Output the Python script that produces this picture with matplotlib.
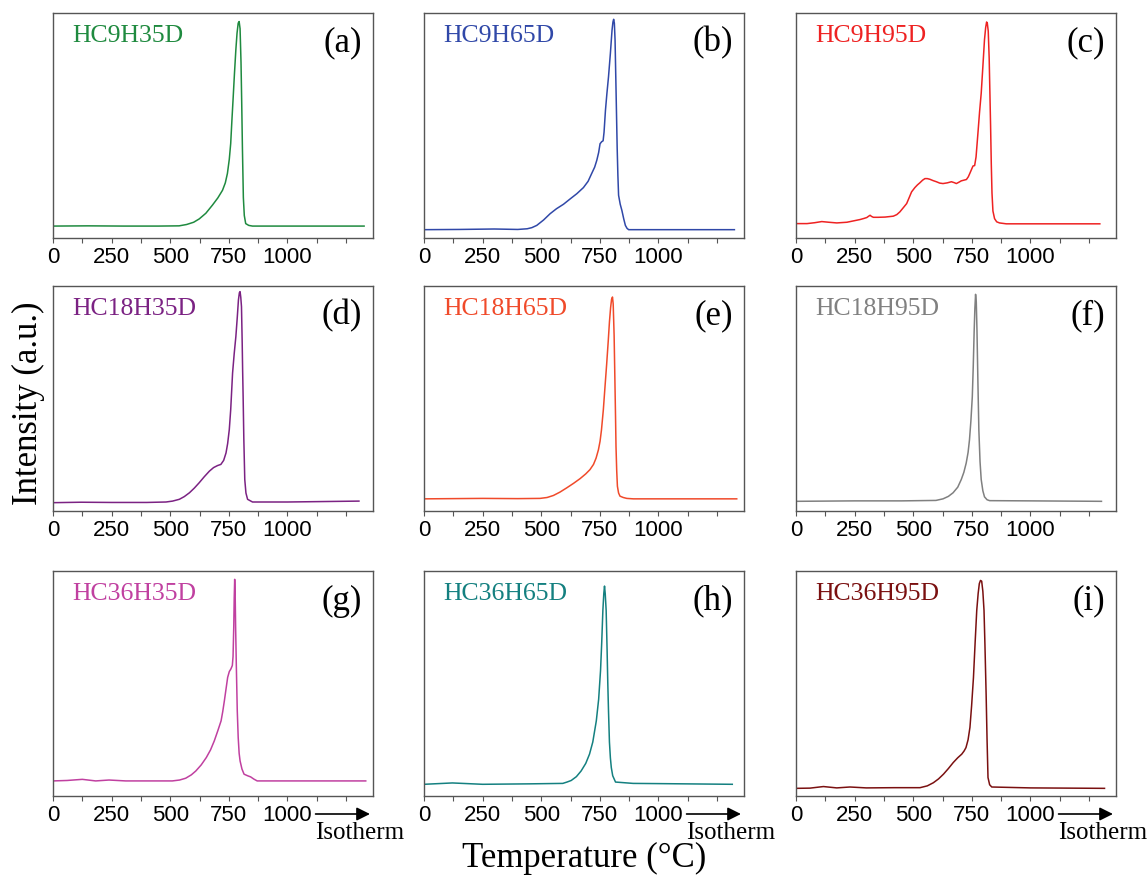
import numpy as np
import matplotlib
matplotlib.use("Agg")
import matplotlib.pyplot as plt

# Intensity (a.u., fraction of panel height) vs temperature (deg C)
a_temp = [0, 150, 300, 450, 538, 570, 600, 624, 652, 680, 703, 723, 735, 744, 752, 758, 763, 768, 774, 780, 785, 790, 794, 798, 802, 805, 808, 812, 816, 822, 835, 851, 1000, 1327]
a_int = [0.053, 0.054, 0.053, 0.053, 0.054, 0.060, 0.070, 0.085, 0.110, 0.146, 0.178, 0.212, 0.245, 0.287, 0.350, 0.420, 0.520, 0.614, 0.730, 0.837, 0.910, 0.955, 0.962, 0.930, 0.780, 0.600, 0.400, 0.180, 0.100, 0.064, 0.056, 0.053, 0.053, 0.053]

b_temp = [0, 150, 300, 400, 440, 460, 481, 510, 538, 565, 595, 625, 652, 680, 700, 715, 728, 737, 745, 751, 758, 764, 768, 774, 780, 787, 795, 802, 806, 809, 812, 815, 818, 821, 824, 827, 830, 837, 844, 852, 859, 866, 873, 1000, 1324]
b_int = [0.037, 0.038, 0.040, 0.038, 0.041, 0.046, 0.056, 0.080, 0.108, 0.130, 0.150, 0.175, 0.197, 0.224, 0.252, 0.286, 0.315, 0.345, 0.380, 0.419, 0.428, 0.432, 0.470, 0.567, 0.640, 0.716, 0.820, 0.923, 0.960, 0.972, 0.955, 0.880, 0.720, 0.560, 0.400, 0.280, 0.190, 0.150, 0.123, 0.085, 0.056, 0.043, 0.037, 0.037, 0.037]

c_temp = [0, 47, 80, 110, 140, 174, 217, 245, 273, 290, 302, 310, 316, 322, 330, 350, 380, 415, 430, 443, 458, 472, 483, 493, 507, 518, 528, 540, 550, 560, 571, 585, 599, 613, 627, 645, 663, 675, 684, 695, 705, 716, 727, 735, 741, 748, 755, 762, 768, 776, 783, 790, 797, 804, 809, 813, 816, 820, 824, 827, 830, 833, 836, 840, 847, 856, 868, 897, 1296]
c_int = [0.064, 0.064, 0.068, 0.073, 0.070, 0.067, 0.070, 0.076, 0.082, 0.087, 0.091, 0.097, 0.101, 0.096, 0.092, 0.092, 0.093, 0.097, 0.104, 0.116, 0.135, 0.153, 0.180, 0.205, 0.224, 0.236, 0.245, 0.257, 0.264, 0.264, 0.261, 0.255, 0.250, 0.244, 0.242, 0.245, 0.250, 0.246, 0.242, 0.248, 0.254, 0.257, 0.260, 0.272, 0.286, 0.303, 0.320, 0.322, 0.360, 0.465, 0.560, 0.643, 0.760, 0.881, 0.935, 0.960, 0.955, 0.920, 0.800, 0.650, 0.500, 0.330, 0.200, 0.120, 0.086, 0.072, 0.067, 0.063, 0.063]

d_temp = [0, 120, 250, 400, 482, 510, 539, 560, 582, 603, 624, 645, 667, 685, 702, 716, 728, 738, 745, 752, 758, 766, 773, 780, 786, 791, 795, 798, 801, 804, 807, 809, 811, 814, 818, 823, 830, 851, 1000, 1305]
d_int = [0.037, 0.039, 0.038, 0.038, 0.040, 0.044, 0.052, 0.064, 0.081, 0.102, 0.126, 0.152, 0.177, 0.193, 0.202, 0.207, 0.225, 0.258, 0.300, 0.362, 0.450, 0.613, 0.700, 0.775, 0.860, 0.938, 0.970, 0.975, 0.950, 0.908, 0.750, 0.620, 0.510, 0.320, 0.140, 0.080, 0.052, 0.040, 0.040, 0.044]

e_temp = [0, 250, 400, 495, 525, 552, 580, 609, 638, 666, 690, 708, 723, 734, 744, 751, 757, 765, 772, 779, 786, 791, 796, 800, 804, 807, 809, 811, 814, 817, 819, 822, 825, 830, 836, 850, 865, 893, 1334]
e_int = [0.054, 0.056, 0.055, 0.056, 0.060, 0.069, 0.084, 0.103, 0.123, 0.144, 0.165, 0.184, 0.207, 0.235, 0.272, 0.310, 0.360, 0.450, 0.551, 0.650, 0.757, 0.840, 0.904, 0.940, 0.951, 0.920, 0.850, 0.780, 0.600, 0.420, 0.287, 0.180, 0.110, 0.080, 0.066, 0.060, 0.056, 0.054, 0.054]

f_temp = [0, 250, 450, 597, 627, 650, 670, 690, 705, 716, 726, 734, 740, 746, 752, 756, 760, 763, 766, 769, 772, 776, 780, 785, 790, 797, 804, 815, 826, 1000, 1303]
f_int = [0.043, 0.045, 0.045, 0.047, 0.054, 0.065, 0.081, 0.106, 0.140, 0.172, 0.213, 0.260, 0.316, 0.400, 0.507, 0.640, 0.801, 0.900, 0.963, 0.930, 0.801, 0.570, 0.360, 0.220, 0.140, 0.090, 0.063, 0.050, 0.046, 0.045, 0.043]

g_temp = [0, 60, 125, 182, 239, 310, 400, 509, 540, 566, 590, 609, 632, 654, 672, 688, 703, 717, 724, 731, 738, 745, 752, 759, 765, 768, 771, 773, 775, 777, 779, 782, 786, 790, 794, 798, 806, 815, 830, 843, 857, 871, 1000, 1334]
g_int = [0.067, 0.069, 0.074, 0.067, 0.071, 0.067, 0.067, 0.067, 0.071, 0.079, 0.094, 0.111, 0.138, 0.171, 0.205, 0.245, 0.290, 0.334, 0.375, 0.423, 0.475, 0.527, 0.553, 0.565, 0.580, 0.620, 0.750, 0.880, 0.963, 0.900, 0.750, 0.580, 0.379, 0.260, 0.190, 0.156, 0.120, 0.097, 0.090, 0.085, 0.075, 0.067, 0.067, 0.067]

h_temp = [0, 121, 250, 450, 592, 610, 628, 650, 670, 690, 706, 720, 735, 745, 753, 758, 763, 767, 770, 773, 777, 781, 784, 787, 791, 795, 799, 805, 817, 892, 1006, 1315]
h_int = [0.052, 0.058, 0.052, 0.054, 0.056, 0.062, 0.069, 0.086, 0.111, 0.145, 0.186, 0.240, 0.334, 0.430, 0.557, 0.680, 0.825, 0.900, 0.933, 0.900, 0.825, 0.650, 0.500, 0.379, 0.240, 0.170, 0.126, 0.090, 0.062, 0.056, 0.055, 0.052]

i_temp = [0, 60, 117, 174, 230, 300, 420, 529, 560, 586, 608, 629, 650, 671, 690, 707, 717, 725, 734, 742, 749, 757, 764, 771, 777, 782, 787, 792, 797, 802, 806, 811, 815, 819, 826, 835, 1000, 1316]
i_int = [0.034, 0.035, 0.042, 0.036, 0.040, 0.036, 0.037, 0.037, 0.045, 0.059, 0.076, 0.097, 0.122, 0.149, 0.170, 0.186, 0.200, 0.215, 0.250, 0.305, 0.400, 0.527, 0.680, 0.825, 0.900, 0.944, 0.958, 0.955, 0.910, 0.825, 0.670, 0.453, 0.250, 0.082, 0.050, 0.040, 0.036, 0.034]

names = ["HC9H35D", "HC9H65D", "HC9H95D",
         "HC18H35D", "HC18H65D", "HC18H95D",
         "HC36H35D", "HC36H65D", "HC36H95D"]
letters = ["(a)", "(b)", "(c)", "(d)", "(e)", "(f)", "(g)", "(h)", "(i)"]
colors = ["#1f8a3f", "#3048a8", "#ee2222",
          "#7b2283", "#f04a2a", "#808080",
          "#c040a0", "#148080", "#7a1010"]
temps = [a_temp, b_temp, c_temp, d_temp, e_temp, f_temp, g_temp, h_temp, i_temp]
ints = [a_int, b_int, c_int, d_int, e_int, f_int, g_int, h_int, i_int]

W, H = 1148, 882
SERIF = "Liberation Serif"
SANS = "Liberation Sans"

fig = plt.figure(figsize=(W / 100, H / 100), dpi=100)

col_left = [53, 424, 796]
row_top = [13, 286, 571]
ax_w, ax_h = 320, 225

for k in range(9):
    r, c = divmod(k, 3)
    left = col_left[c]
    top = row_top[r]
    ax = fig.add_axes([left / W, 1 - (top + ax_h) / H, ax_w / W, ax_h / H])
    ax.plot(temps[k], ints[k], color=colors[k], lw=1.1, solid_joinstyle="round")
    ax.set_xlim(0, 1365)
    ax.set_ylim(0, 1)
    ax.set_yticks([])
    ax.set_xticks([0, 250, 500, 750, 1000, 1250])
    ax.set_xticklabels(["0", "250", "500", "750", "1000", ""])
    ax.set_xticks(np.arange(125, 1300, 250), minor=True)
    ax.tick_params(axis="x", which="both", direction="out", length=3.5, width=0.8,
                   color="#555555", pad=3)
    for lab in ax.get_xticklabels():
        lab.set_fontfamily(SANS)
        lab.set_fontsize(16)
    for sp in ax.spines.values():
        sp.set_color("#555555")
        sp.set_linewidth(1.0)

    ax.text(19 / ax_w, 1 - 23 / ax_h, names[k], transform=ax.transAxes,
            family=SERIF, fontsize=18.5, color=colors[k], ha="left", va="center")
    ax.text(1 - 11 / ax_w, 1 - 30 / ax_h, letters[k], transform=ax.transAxes,
            family=SERIF, fontsize=25, color="black", ha="right", va="center")

    if r == 2:
        ax.annotate("", xy=(1352, -0.08), xytext=(1120, -0.08),
                    xycoords=("data", "axes fraction"),
                    textcoords=("data", "axes fraction"),
                    arrowprops=dict(arrowstyle="-|>", color="black", lw=1.2,
                                    mutation_scale=20, shrinkA=0, shrinkB=0),
                    annotation_clip=False)
        ax.text(1310, -0.165, "Isotherm", transform=ax.get_xaxis_transform(),
                family=SERIF, fontsize=18, ha="center", va="center", clip_on=False)

fig.text(28 / W, 1 - 403 / H, "Intensity (a.u.)", rotation=90, family=SERIF,
         fontsize=25, ha="center", va="center")
fig.text(584 / W, 1 - 858 / H, "Temperature (\u00b0C)", family=SERIF,
         fontsize=25, ha="center", va="center")

fig.savefig("out.png", dpi=100)
